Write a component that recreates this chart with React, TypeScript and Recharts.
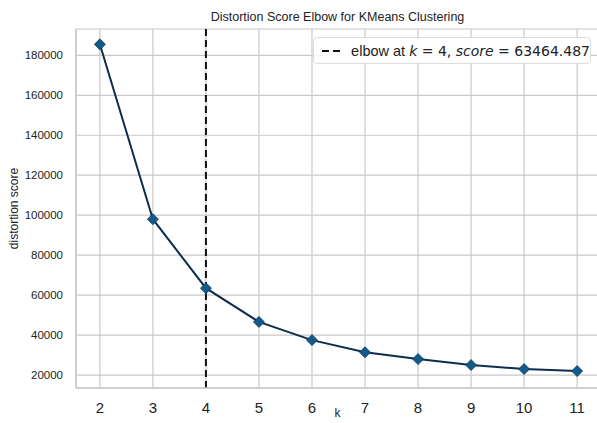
import { LineChart, Line, XAxis, YAxis, CartesianGrid, ReferenceLine, Label } from 'recharts'

const kValues = [2, 3, 4, 5, 6, 7, 8, 9, 10, 11]
const scores = [185500, 98000, 63464.487, 46600, 37500, 31400, 28000, 25000, 23000, 22000]
const yTicks = [20000, 40000, 60000, 80000, 100000, 120000, 140000, 160000, 180000]
const elbowK = 4
const elbowScore = '63464.487'

const data = kValues.map((k, i) => ({ k, score: scores[i] }))

// eslint-disable-next-line @typescript-eslint/no-explicit-any
function Diamond({ cx, cy }: any) {
  if (cx == null || cy == null) return null
  const r = 5.5
  return (
    <path
      d={`M${cx},${cy - r} L${cx + r},${cy} L${cx},${cy + r} L${cx - r},${cy} Z`}
      fill="#125a8a"
      stroke="#0d3a62"
      strokeWidth={0.8}
    />
  )
}

export default function App() {
  const font = '"Liberation Sans", Arial, sans-serif'
  return (
    <div style={{ position: 'absolute', left: 0, top: 0, width: 597, height: 423, overflow: 'hidden', background: '#fff', fontFamily: font }}>
      <div style={{ position: 'absolute', left: 0, top: 10, width: 675, textAlign: 'center', fontSize: 12.5, color: '#222' }}>
        Distortion Score Elbow for KMeans Clustering
      </div>
      <LineChart width={625} height={423} data={data} margin={{ top: 29, right: 24, bottom: 0, left: 0 }}>
        <CartesianGrid stroke="#c9c9c9" strokeWidth={1.2} />
        <XAxis
          dataKey="k"
          type="number"
          domain={[1.55, 11.45]}
          ticks={kValues}
          allowDataOverflow
          axisLine={{ stroke: '#c9c9c9', strokeWidth: 1.5 }}
          tickLine={false}
          tick={{ fontSize: 15, fill: '#222', fontFamily: font }}
          tickMargin={8}
          height={35}
        />
        <YAxis
          type="number"
          domain={[13535, 193165]}
          ticks={yTicks}
          allowDataOverflow
          axisLine={{ stroke: '#c9c9c9', strokeWidth: 1.5 }}
          tickLine={false}
          tick={{ fontSize: 11.5, fill: '#222', fontFamily: font }}
          tickMargin={7}
          width={76}
        >
          <Label value="distortion score" angle={-90} position="insideLeft" offset={14} style={{ fontSize: 12, fill: '#222', textAnchor: 'middle', fontFamily: font }} />
        </YAxis>
        <ReferenceLine x={elbowK} stroke="#111" strokeWidth={2} strokeDasharray="7 4" />
        <Line
          type="linear"
          dataKey="score"
          stroke="#0d2c4e"
          strokeWidth={2}
          dot={<Diamond />}
          activeDot={false}
          isAnimationActive={false}
        />
      </LineChart>
      <div style={{ position: 'absolute', left: 0, top: 406, width: 675, textAlign: 'center', fontSize: 12, lineHeight: '14px', color: '#222' }}>k</div>
      <div
        style={{
          position: 'absolute',
          left: 313,
          top: 37,
          width: 278,
          height: 27,
          border: '1px solid #dddddd',
          borderRadius: 4,
          background: 'rgba(255,255,255,0.9)',
          display: 'flex',
          alignItems: 'center',
          boxSizing: 'border-box',
          fontSize: 14.5,
          color: '#222',
          whiteSpace: 'nowrap',
        }}
      >
        <svg width={34} height={10} style={{ marginLeft: 8, marginRight: 8 }}>
          <line x1={0} y1={5} x2={32} y2={5} stroke="#111" strokeWidth={2.2} strokeDasharray="7 4" />
        </svg>
        <span>elbow at&nbsp;</span>
        <span style={{ fontFamily: '"DejaVu Sans", sans-serif', fontSize: 14 }}>
          <i>k</i> = 4, <i>score</i> = {elbowScore}
        </span>
      </div>
    </div>
  )
}
